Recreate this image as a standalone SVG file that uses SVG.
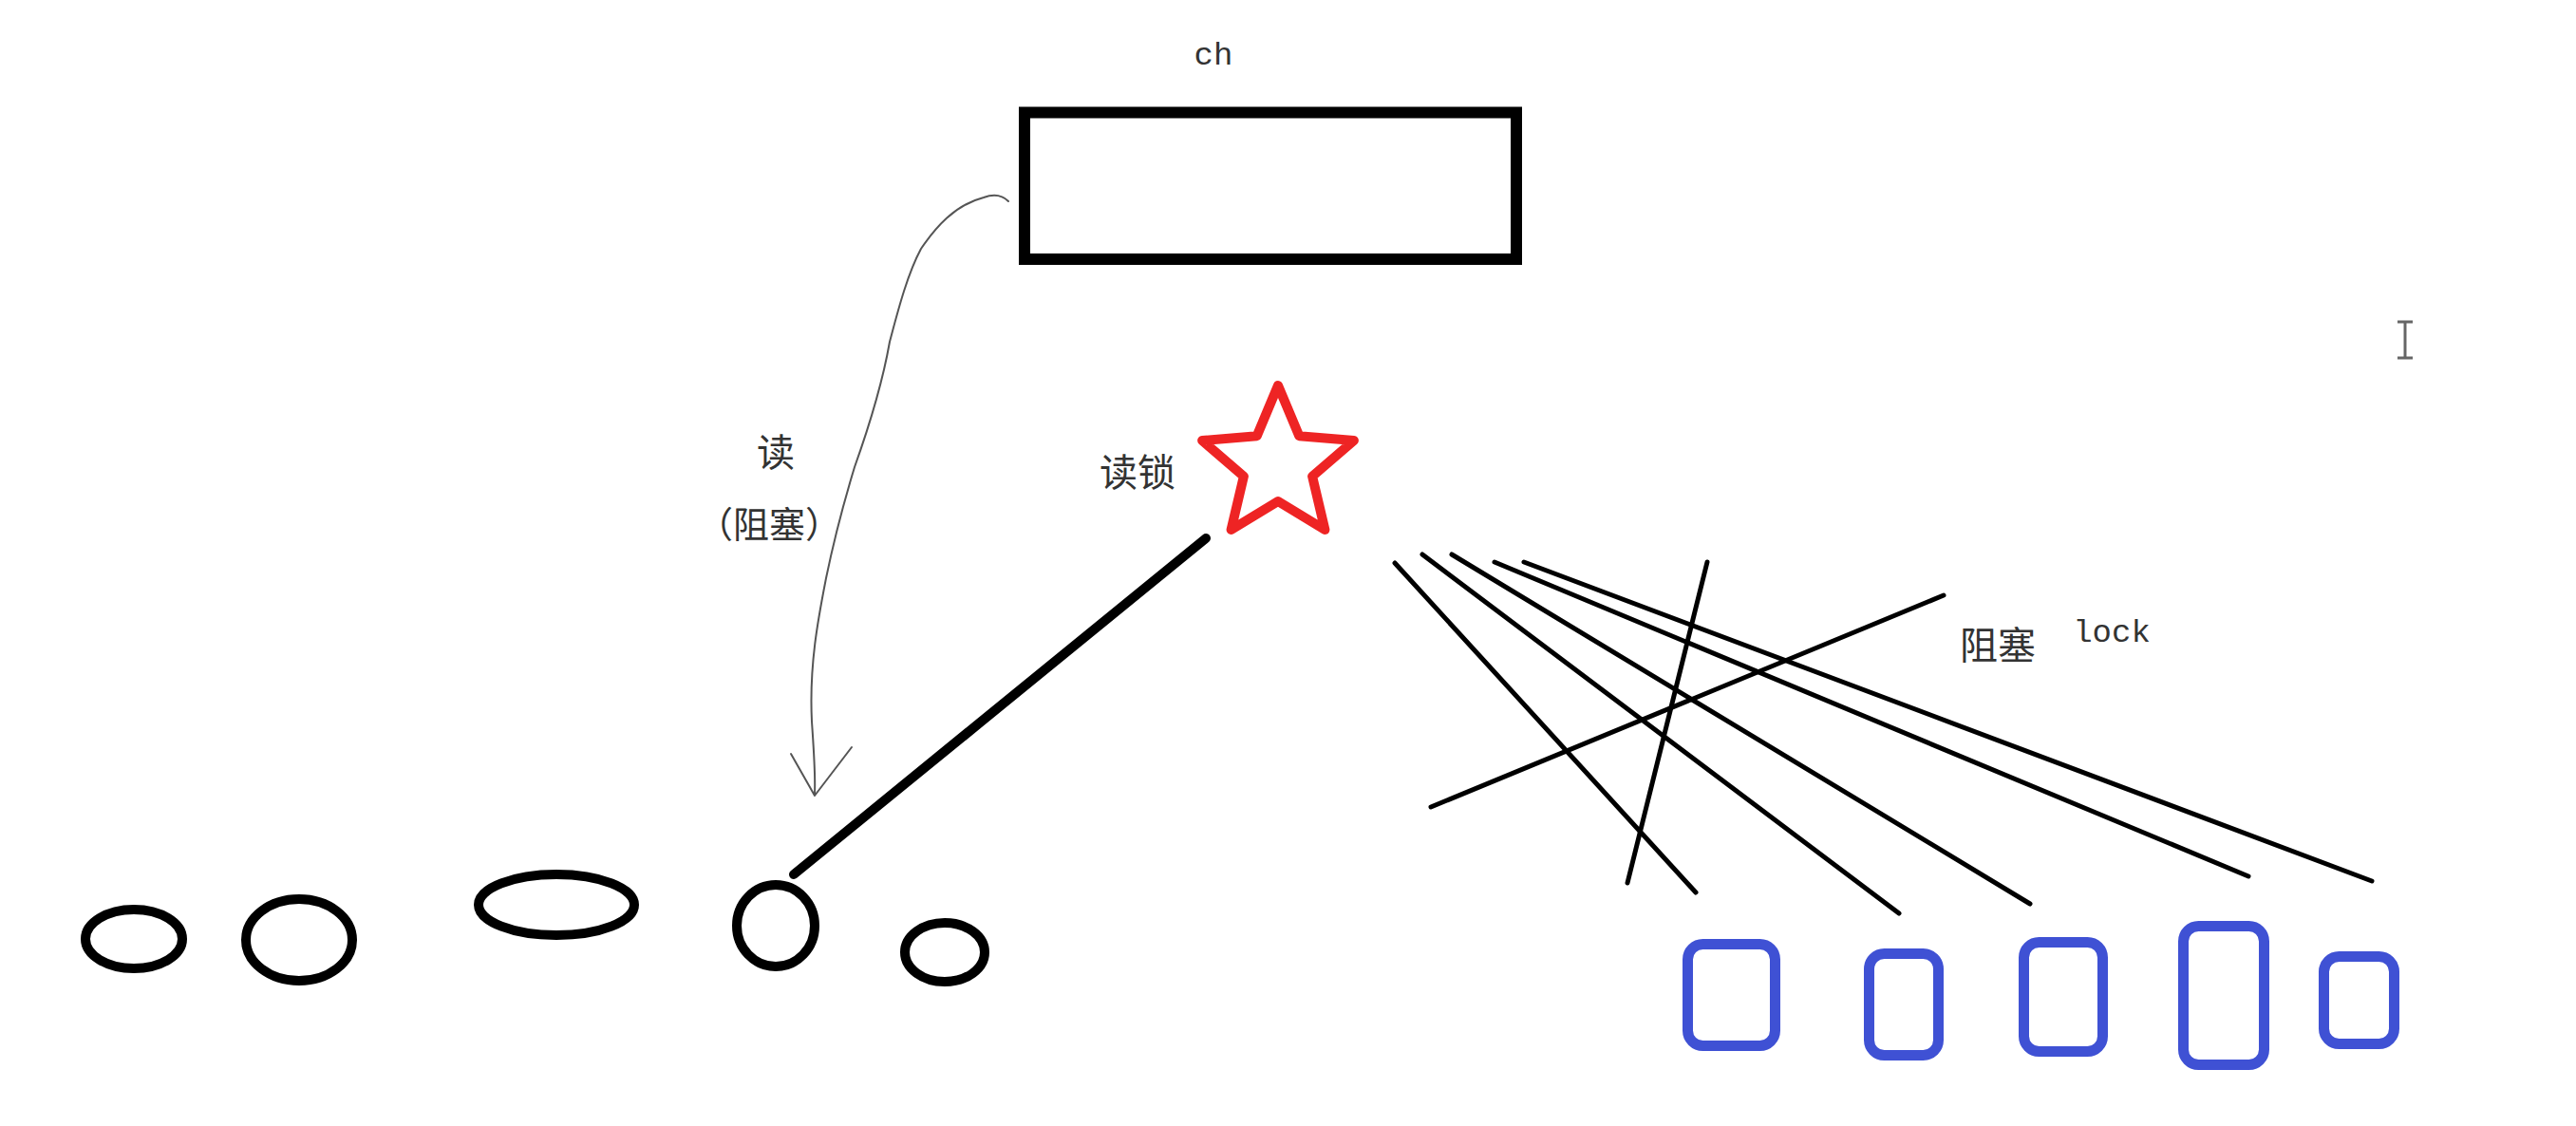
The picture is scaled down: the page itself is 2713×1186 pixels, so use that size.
<svg xmlns="http://www.w3.org/2000/svg" width="2713" height="1186" viewBox="0 0 2713 1186">
<style>
.cjk{font-family:"Noto Sans CJK SC","Noto Sans",sans-serif;fill:#333;text-anchor:middle}
.mono{font-family:"Liberation Mono",monospace;fill:#333;text-anchor:middle}
.blk{fill:none;stroke:#000;stroke-linecap:round}
.oval{fill:none;stroke:#000;stroke-width:10}
.box{fill:none;stroke:#3f51d4;stroke-width:11}
.thin{fill:none;stroke:#555;stroke-width:2;stroke-linecap:round;stroke-linejoin:round}
</style>
<rect width="2713" height="1186" fill="#fff"/>
<g id="channel">
<rect x="1079" y="118.5" width="518" height="154.5" fill="none" stroke="#000" stroke-width="12"/>
<text class="mono" x="1278" y="68" font-size="34">ch</text>
</g>
<g id="readlock">
<polygon points="1346,406 1368.3,459.3 1425.9,464 1382.1,501.7 1395.4,558 1346,528 1296.6,558 1309.9,501.7 1266.1,464 1323.7,459.3" fill="none" stroke="#ee2424" stroke-width="10" stroke-linejoin="round"/>
<text class="cjk" x="1198" y="512" font-size="40">读锁</text>
</g>
<g id="read-label">
<text class="cjk" x="817" y="491" font-size="40">读</text>
<text class="cjk" x="810" y="566" font-size="38">（阻塞）</text>
</g>
<g id="block-label">
<text class="cjk" x="2104" y="694" font-size="40">阻塞</text>
<text class="mono" x="2224" y="676" font-size="34">lock</text>
</g>
<g id="readers">
<ellipse id="r1" class="oval" cx="141" cy="989" rx="51" ry="31"/>
<ellipse id="r2" class="oval" cx="315" cy="990" rx="56" ry="43"/>
<ellipse id="r3" class="oval" cx="586" cy="953" rx="82" ry="32" stroke-width="11"/>
<ellipse id="r4" class="oval" cx="817" cy="975" rx="41" ry="43" stroke-width="9"/>
<ellipse id="r5" class="oval" cx="995" cy="1003" rx="42" ry="31"/>
</g>
<g id="writers">
<rect id="w1" class="box" x="1777.5" y="994.5" width="92" height="107" rx="16"/>
<rect id="w2" class="box" x="1968.5" y="1004.5" width="73" height="107" rx="16"/>
<rect id="w3" class="box" x="2131.5" y="992.5" width="83" height="115" rx="16"/>
<rect id="w4" class="box" x="2299.5" y="975.5" width="85" height="146" rx="16"/>
<rect id="w5" class="box" x="2447.5" y="1007.5" width="74" height="92" rx="16"/>
</g>
<g id="cursor" stroke="#666" stroke-width="3" fill="none">
<line x1="2533" y1="339" x2="2533" y2="377"/>
<line x1="2525" y1="339" x2="2541" y2="339"/>
<line x1="2525" y1="377" x2="2541" y2="377"/>
</g>
<g id="connectors">
<path class="thin" d="M1062,212 Q1052,202 1036,208 C1005,216 985,240 970,262 C955,290 945,330 937,360 C930,400 915,450 900,492 C890,525 878,570 870,609 C862,650 852,700 855,760 C857,790 859,815 858,836"/>
<path class="thin" d="M833,794 L858,838 L897,787"/>
<line class="blk" stroke-width="10" x1="1270" y1="567" x2="836" y2="921"/>
<g class="blk" stroke-width="5">
<line x1="1469" y1="593" x2="1786" y2="940"/>
<line x1="1498" y1="584" x2="2000" y2="962"/>
<line x1="1529" y1="584" x2="2138" y2="952"/>
<line x1="1574" y1="592" x2="2368" y2="923"/>
<line x1="1605" y1="592" x2="2498" y2="928"/>
<line x1="1798" y1="592" x2="1714" y2="930"/>
<line x1="2047" y1="627" x2="1507" y2="850"/>
</g>
</g>
</svg>
